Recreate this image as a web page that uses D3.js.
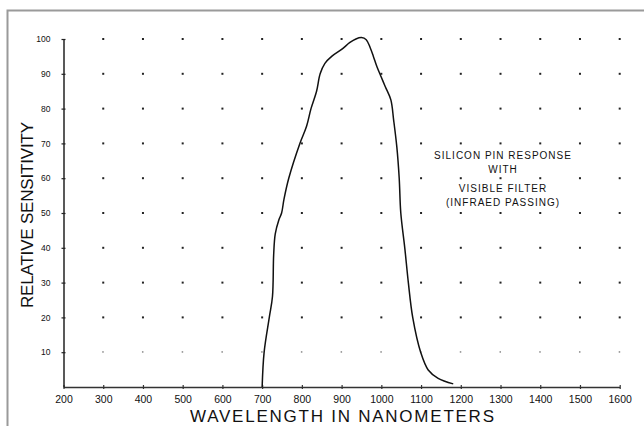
<!DOCTYPE html>
<html>
<head>
<meta charset="utf-8">
<script src="https://cdn.jsdelivr.net/npm/d3@7"></script>
<style>
  body { margin: 0; background: #fff; }
  svg { display: block; font-family: Arial, "Liberation Sans", sans-serif; }
</style>
</head>
<body>
<svg width="644" height="426"></svg>
<script>
// wavelength (nm) vs relative sensitivity
const wavelengths = [700, 705, 718, 726, 729, 733, 742, 749, 755, 767, 795, 812, 823, 837, 846, 858, 875, 900, 921, 936, 950, 962, 972, 980, 989, 1000, 1010, 1024, 1031, 1039, 1045, 1049, 1059, 1068, 1079, 1099, 1118, 1143, 1181];
const sensitivity = [0, 10, 20, 26, 38, 44, 48, 50, 54, 60, 70, 75, 80, 85, 90, 93, 95, 97, 99, 100, 100.4, 99.8, 97.5, 95, 92, 89, 86.3, 82.5, 76.7, 69, 60, 50, 40, 30, 20, 10, 4.9, 2.5, 0.9];
const xTicks = [200, 300, 400, 500, 600, 700, 800, 900, 1000, 1100, 1200, 1300, 1400, 1500, 1600];
const yTicks = [10, 20, 30, 40, 50, 60, 70, 80, 90, 100];
const noteLines = ['SILICON PIN RESPONSE', 'WITH', 'VISIBLE FILTER', '(INFRAED PASSING)'];

const svg = d3.select('svg');

const x = d3.scaleLinear().domain([200, 1600]).range([63.5, 619.7]);
const y = d3.scaleLinear().domain([0, 100]).range([387, 39]);

// outer frame (top and left only)
svg.append('path')
  .attr('d', 'M7.5,426V10.5H644')
  .attr('fill', 'none')
  .attr('stroke', '#9a9a9a')
  .attr('stroke-width', 2);

// grid of dots
const dots = [];
xTicks.slice(1).forEach((wx) => {
  yTicks.forEach((vy) => dots.push({wx, vy}));
});
svg.selectAll('.dot')
  .data(dots)
  .enter()
  .append('rect')
  .attr('class', 'dot')
  .attr('x', d => x(d.wx) - 1)
  .attr('y', d => y(d.vy) - 1)
  .attr('width', d => d.vy === 10 ? 1.5 : 2)
  .attr('height', d => d.vy === 10 ? 1.5 : 2)
  .attr('fill', d => d.vy === 10 ? '#888' : '#222');

// x axis
const xAxis = svg.append('g').attr('transform', `translate(0,${y(0)})`)
  .call(d3.axisBottom(x).tickValues(xTicks).tickSize(0).tickPadding(9).tickFormat(d3.format('d')));
xAxis.select('.domain').attr('stroke', '#333').attr('stroke-width', 1.3);
xAxis.selectAll('.tick line').attr('y1', -2).attr('y2', 2).attr('stroke', '#333').attr('stroke-width', 1.2);
xAxis.selectAll('text').attr('font-size', 10.5).attr('fill', '#111');

// y axis
const yAxis = svg.append('g').attr('transform', `translate(${x(200)},0)`)
  .call(d3.axisLeft(y).tickValues(yTicks).tickSize(0).tickPadding(13));
yAxis.select('.domain').attr('stroke', '#222').attr('stroke-width', 1.5);
yAxis.selectAll('.tick line').attr('x1', -2).attr('x2', 2).attr('stroke', '#222').attr('stroke-width', 1.2);
yAxis.selectAll('text').attr('font-size', 8.5).attr('fill', '#111');

// response curve
const pts = wavelengths.map((w, i) => [w, sensitivity[i]]);
svg.append('path')
  .datum(pts)
  .attr('fill', 'none')
  .attr('stroke', '#111')
  .attr('stroke-width', 1.5)
  .attr('d', d3.line().x(d => x(d[0])).y(d => y(d[1])).curve(d3.curveCatmullRom.alpha(0.5)));

// note text
const noteY = [159, 172.5, 192, 205.5];
svg.selectAll('.note')
  .data(noteLines)
  .enter()
  .append('text')
  .attr('class', 'note')
  .attr('x', 503)
  .attr('y', (d, i) => noteY[i])
  .attr('text-anchor', 'middle')
  .attr('font-size', 10)
  .attr('letter-spacing', 1)
  .attr('fill', '#111')
  .text(d => d);

// axis titles
svg.append('text')
  .attr('x', 342)
  .attr('y', 422)
  .attr('text-anchor', 'middle')
  .attr('font-size', 17)
  .attr('textLength', 304)
  .attr('fill', '#111')
  .text('WAVELENGTH IN NANOMETERS');

svg.append('text')
  .attr('transform', 'translate(33,215) rotate(-90)')
  .attr('text-anchor', 'middle')
  .attr('font-size', 17)
  .attr('textLength', 186)
  .attr('fill', '#111')
  .text('RELATIVE SENSITIVITY');
</script>
</body>
</html>
